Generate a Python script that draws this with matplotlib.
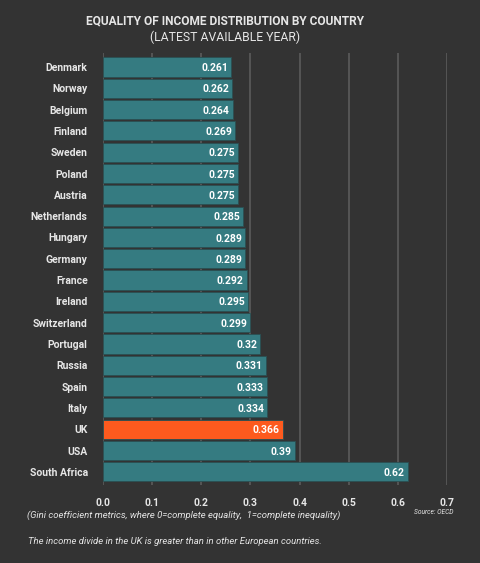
import numpy as np
import matplotlib.pyplot as plt

countries = ['Denmark', 'Norway', 'Belgium', 'Finland', 'Sweden', 'Poland', 'Austria',
             'Netherlands', 'Hungary', 'Germany', 'France', 'Ireland', 'Switzerland',
             'Portugal', 'Russia', 'Spain', 'Italy', 'UK', 'USA', 'South Africa']
gini = [0.261, 0.262, 0.264, 0.269, 0.275, 0.275, 0.275, 0.285, 0.289, 0.289,
        0.292, 0.295, 0.299, 0.32, 0.331, 0.333, 0.334, 0.366, 0.39, 0.62]
labels = ['0.261', '0.262', '0.264', '0.269', '0.275', '0.275', '0.275', '0.285', '0.289',
          '0.289', '0.292', '0.295', '0.299', '0.32', '0.331', '0.333', '0.334', '0.366',
          '0.39', '0.62']
highlight = 'UK'

bg = '#333333'
txt = '#e6e6e6'
teal = '#357b81'
orange = '#fd5a1e'

plt.rcParams['font.family'] = ['Roboto', 'DejaVu Sans']

fig = plt.figure(figsize=(4.8, 5.63), dpi=100, facecolor=bg)
ax = fig.add_axes([0.2146, 0.1385, 0.7167, 0.7675], facecolor=bg)

y = np.arange(len(countries))
colors = [orange if c == highlight else teal for c in countries]
ax.barh(y, gini, height=0.9, color=colors, edgecolor='#2a4f52', linewidth=0.6, zorder=3)

for yi, v, lab in zip(y, gini, labels):
    ax.text(v - 0.006, yi + 0.05, lab, ha='right', va='center', color='white',
            fontsize=7.5, fontweight='bold', zorder=4)

ax.set_xlim(0, 0.7)
ax.set_ylim(19.62, -0.66)
ax.set_yticks(y)
ax.set_yticklabels(countries, color=txt, fontsize=7.5, fontweight='bold')
ax.set_xticks(np.arange(0, 0.71, 0.1))
ax.set_xticklabels(['%.1f' % t for t in np.arange(0, 0.71, 0.1)], color=txt,
                   fontsize=7.5, fontweight='bold')
ax.tick_params(axis='both', length=0)
ax.tick_params(axis='y', pad=11)
ax.tick_params(axis='x', pad=9)
ax.grid(axis='x', color='#585858', linewidth=1.3, zorder=0)
for s in ax.spines.values():
    s.set_visible(False)

fig.text(0.469, 0.962, 'EQUALITY OF INCOME DISTRIBUTION BY COUNTRY', ha='center', va='center',
         color=txt, fontsize=8.6, fontweight='bold')
fig.text(0.469, 0.934, '(LATEST AVAILABLE YEAR)', ha='center', va='center',
         color=txt, fontsize=8.8)
fig.text(0.056, 0.0845, '(Gini coefficient metrics, where 0=complete equality,  1=complete inequality)',
         ha='left', va='center', color=txt, fontsize=6.8, style='italic')
fig.text(0.945, 0.0905, 'Source: OECD', ha='right', va='center', color=txt,
         fontsize=4.8, style='italic')
fig.text(0.058, 0.0375, 'The income divide in the UK is greater than in other European countries.',
         ha='left', va='center', color=txt, fontsize=6.8, style='italic')

fig.savefig('out.png', dpi=100, facecolor=bg)
